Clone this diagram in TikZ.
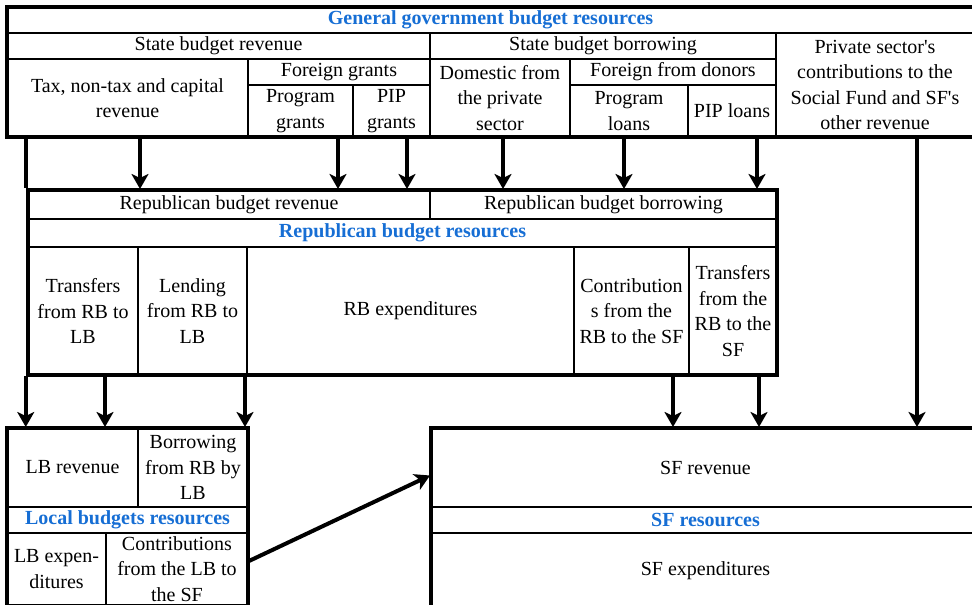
\documentclass[tikz,border=0pt]{standalone}
\usepackage{fontspec}
\setmainfont{Liberation Serif}
\usepackage{tikz}
\usetikzlibrary{arrows.meta}
\definecolor{resblue}{RGB}{22,110,212}

\begin{document}
\begin{tikzpicture}[
x = 1pt, y = -1pt,
font = \fontsize{20}{25.5}\selectfont,
cell/.style={rectangle, align = center, draw = black, line width = 2pt, inner sep = 0pt},
restitle/.style={cell, text = resblue, font = \fontsize{20}{25.5}\selectfont\bfseries},
blockrect/.style={rectangle, draw = black, line width = 4.5pt, inner sep = 0pt},
flowarr/.style={-{Stealth[length = 15pt, width = 17pt, inset = 4pt]}, line width = 4pt},
flowline/.style={line width = 4.5pt}]

\clip (0,0) rectangle (972,605);

% general government
\node[restitle, minimum width = 967pt, minimum height = 26pt] (GGres) at (490.5,20) {General government budget resources};
\node[cell, minimum width = 423pt, minimum height = 26pt] (SBR) at (218.5,46) {State budget revenue};
\node[cell, minimum width = 346pt, minimum height = 26pt] (SBB) at (603,46) {State budget borrowing};
\node[cell, minimum width = 198pt, minimum height = 104pt] (Priv) at (875,85) {Private sector\textquotesingle s\\contributions to the\\Social Fund and SF\textquotesingle s\\other revenue};
\node[cell, minimum width = 241pt, minimum height = 78pt] (Tax) at (127.5,98) {Tax, non-tax and capital\\revenue};
\node[cell, minimum width = 182pt, minimum height = 26pt] (FG) at (339,72) {Foreign grants};
\node[cell, minimum width = 105pt, minimum height = 52pt] (PG) at (300.5,111) {Program\\grants};
\node[cell, minimum width = 77pt, minimum height = 52pt] (PIPG) at (391.5,111) {PIP\\grants};
\node[cell, minimum width = 140pt, minimum height = 78pt] (Dom) at (500,98) {Domestic from\\the private\\sector};
\node[cell, minimum width = 206pt, minimum height = 26pt] (FD) at (673,72) {Foreign from donors};
\node[cell, minimum width = 118pt, minimum height = 52pt] (PL) at (629,111) {Program\\loans};
\node[cell, minimum width = 88pt, minimum height = 52pt] (PIPL) at (732,111) {PIP loans};
\node[blockrect, minimum width = 967pt, minimum height = 130pt] (GG) at (490.5,72) {};

% republican budget
\node[cell, minimum width = 402pt, minimum height = 29pt] (RBR) at (229,204.5) {Republican budget revenue};
\node[cell, minimum width = 347pt, minimum height = 29pt] (RBB) at (603.5,204.5) {Republican budget borrowing};
\node[restitle, minimum width = 749pt, minimum height = 28pt] (RBres) at (402.5,233) {Republican budget resources};
\node[cell, minimum width = 110pt, minimum height = 128pt] (TRLB) at (83,311) {Transfers\\from RB to\\LB};
\node[cell, minimum width = 109pt, minimum height = 128pt] (LRLB) at (192.5,311) {Lending\\from RB to\\LB};
\node[cell, minimum width = 327pt, minimum height = 128pt] (RBexp) at (410.5,311) {RB expenditures};
\node[cell, minimum width = 115pt, minimum height = 128pt] (CRSF) at (631.5,311) {Contribution\\s from the\\RB to the SF};
\node[cell, minimum width = 88pt, minimum height = 128pt] (TRSF) at (733,311) {Transfers\\from the\\RB to the\\SF};
\node[blockrect, minimum width = 749pt, minimum height = 185pt] (RB) at (402.5,282.5) {};

% local budgets
\node[cell, minimum width = 131pt, minimum height = 79pt] (LBR) at (72.5,467.5) {LB revenue};
\node[cell, minimum width = 110pt, minimum height = 79pt] (BLB) at (193,467.5) {Borrowing\\from RB by\\LB};
\node[restitle, minimum width = 241pt, minimum height = 26pt] (LBres) at (127.5,520) {Local budgets resources};
\node[cell, minimum width = 99pt, minimum height = 72pt] (LBexp) at (56.5,569) {LB expen-\\ditures};
\node[cell, minimum width = 142pt, minimum height = 72pt] (CLSF) at (177,569) {Contributions\\from the LB to\\the SF};
\node[blockrect, minimum width = 241pt, minimum height = 192pt] (LB) at (127.5,524) {};

% social fund
\node[cell, minimum width = 549pt, minimum height = 79pt] (SFR) at (705.5,467.5) {SF revenue};
\node[restitle, minimum width = 549pt, minimum height = 26pt] (SFres) at (705.5,520) {SF resources};
\node[cell, minimum width = 549pt, minimum height = 76pt] (SFexp) at (705.5,571) {SF expenditures};
\node[blockrect, minimum width = 549pt, minimum height = 192pt] (SF) at (705.5,524) {};

% arrow columns
\coordinate (k1) at (140,0);
\coordinate (k2) at (338,0);
\coordinate (k3) at (407,0);
\coordinate (k4) at (503,0);
\coordinate (k5) at (624,0);
\coordinate (k6) at (757,0);
\coordinate (k7) at (105,0);
\coordinate (k8) at (245,0);
\coordinate (k9) at (673,0);
\coordinate (k10) at (759,0);
\coordinate (k11) at (917,0);

\draw[flowline] (Tax.south -| RB.west) -- (RB.north west);
\draw[flowarr] (Tax.south -| k1) -- (RBR.north -| k1);
\draw[flowarr] (PG.south -| k2) -- (RBR.north -| k2);
\draw[flowarr] (PIPG.south -| k3) -- (RBR.north -| k3);
\draw[flowarr] (Dom.south -| k4) -- (RBB.north -| k4);
\draw[flowarr] (PL.south -| k5) -- (RBB.north -| k5);
\draw[flowarr] (PIPL.south -| k6) -- (RBB.north -| k6);

\draw[flowarr] (TRLB.south -| RB.west) -- (LBR.north -| RB.west);
\draw[flowarr] (TRLB.south -| k7) -- (LBR.north -| k7);
\draw[flowarr] (LRLB.south -| k8) -- (BLB.north -| k8);
\draw[flowarr] (CRSF.south -| k9) -- (SFR.north -| k9);
\draw[flowarr] (TRSF.south -| k10) -- (SFR.north -| k10);
\draw[flowarr] (Priv.south -| k11) -- (SFR.north -| k11);
\draw[flowarr] ([yshift=8pt]CLSF.east) -- ([yshift=-8pt]SFR.west);
\end{tikzpicture}
\end{document}
